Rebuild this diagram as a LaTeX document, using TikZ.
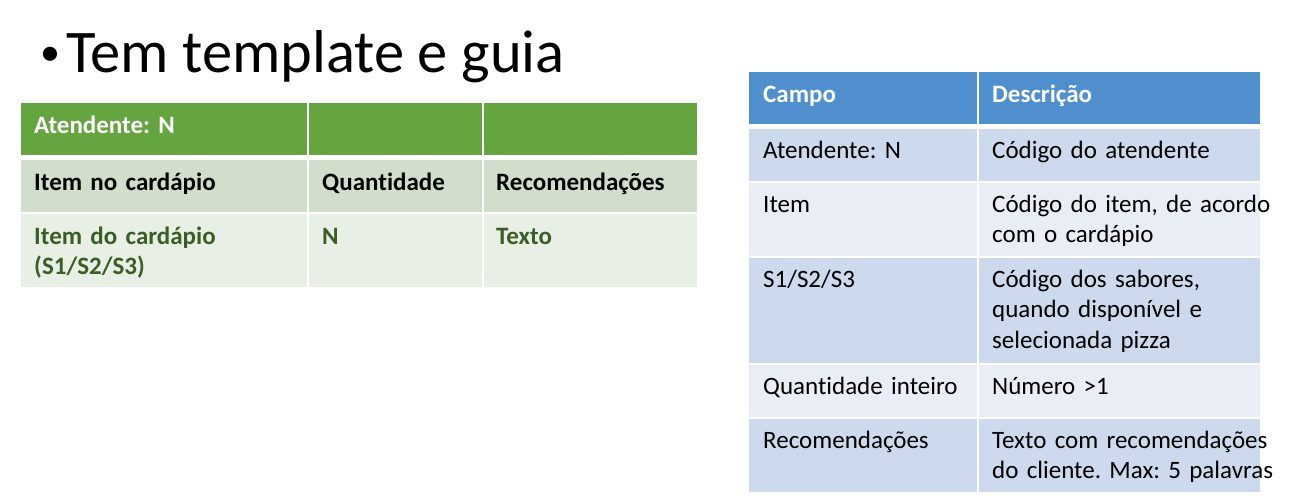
\documentclass[tikz,border=0pt]{standalone}
\usepackage{fontspec}
\setmainfont{Carlito}[Ligatures=NoCommon]
\usepackage{tikz}
\frenchspacing

\definecolor{vertH}{RGB}{100,165,64}
\definecolor{vertM}{RGB}{208,222,203}
\definecolor{vertC}{RGB}{232,239,229}
\definecolor{vertT}{RGB}{59,93,38}
\definecolor{bleuH}{RGB}{80,143,206}
\definecolor{bleuF}{RGB}{205,217,236}
\definecolor{bleuC}{RGB}{232,237,246}

\tikzset{
  cell/.style={anchor=base west,inner sep=0pt,text width=300pt,align=left,font=\fontsize{25}{30.5}\selectfont},
  cellb/.style={cell,font=\fontsize{25}{30}\selectfont\bfseries},
}

\begin{document}
\begin{tikzpicture}[x=1pt,y=-1pt]
\useasboundingbox (0,0) rectangle (1300,503);
% Titre
\node [anchor=base west,inner sep=0pt,font=\fontsize{60.5}{72}\selectfont] (titre) at (40,73) {\raisebox{7.5pt}{\fontsize{40}{40}\selectfont •}\hspace{6pt}Tem template e guia};
% Tableau vert
\fill [vertH] (21,103) rectangle (697,155);
\fill [vertM] (21,160) rectangle (697,212);
\fill [vertC] (21,214) rectangle (697,287);
\draw [white,line width=2pt] (308,103) -- (308,287) (483,103) -- (483,287);
\node [cellb,white] (atend) at (34,133) {Atendente: N};
\node [cellb] (item) at (34,190) {Item no cardápio};
\node [cellb] (qte) at (322,190) {Quantidade};
\node [cellb] (recom) at (496,190) {Recomendações};
\node [cellb,vertT] (itemcard) at (34,244) {Item do cardápio\\(S1/S2/S3)};
\node [cellb,vertT] (qten) at (322,244) {N};
\node [cellb,vertT] (texto) at (496,244) {Texto};
% Tableau bleu
\fill [bleuH] (749,72) rectangle (1260,124);
\fill [bleuF] (749,129) rectangle (1260,181);
\fill [bleuC] (749,183) rectangle (1260,256);
\fill [bleuF] (749,258) rectangle (1260,363);
\fill [bleuC] (749,365) rectangle (1260,417);
\fill [bleuF] (749,419) rectangle (1260,492);
\draw [white,line width=2.5pt] (978,72) -- (978,492);
\node [cellb,white] (campo) at (763,102) {Campo};
\node [cellb,white] (descr) at (992,102) {Descrição};
\node [cell] (c1) at (763,158) {Atendente: N};
\node [cell] (d1) at (992,158) {Código do atendente};
\node [cell] (c2) at (763,212) {Item};
\node [cell] (d2) at (992,212) {Código do item, de acordo\\com o cardápio};
\node [cell] (c3) at (763,287) {S1/S2/S3};
\node [cell] (d3) at (992,287) {Código dos sabores,\\quando disponível e\\selecionada pizza};
\node [cell] (c4) at (763,394) {Quantidade inteiro};
\node [cell] (d4) at (992,394) {Número >1};
\node [cell] (c5) at (763,448) {Recomendações};
\node [cell] (d5) at (992,448) {Texto com recomendações\\do cliente. Max: 5 palavras};
\end{tikzpicture}
\end{document}
